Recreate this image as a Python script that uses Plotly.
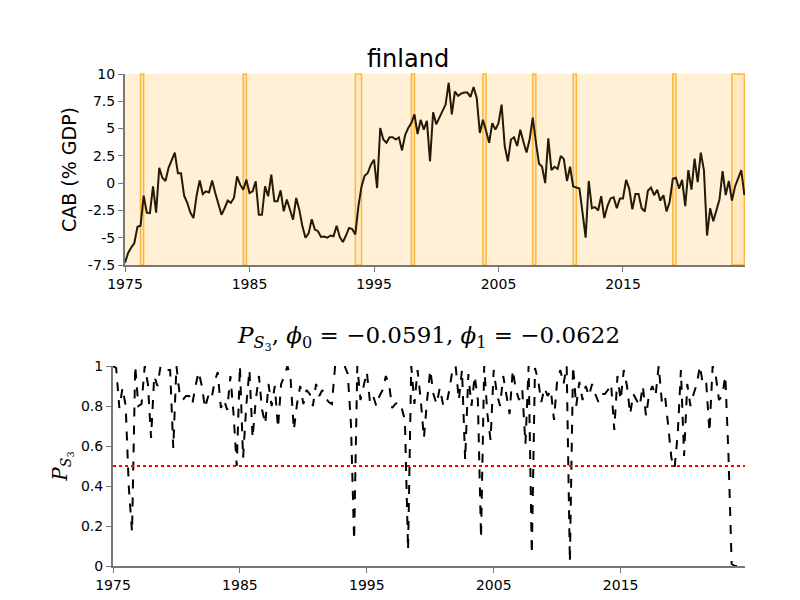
import plotly.graph_objects as go

# current account balance, quarterly from 1975Q1
cab = [-7.3, -6.4, -5.9, -5.5, -4.0, -3.9, -1.15, -2.7, -2.75, -0.3, -2.7, 1.4, 0.5, 0.2, 1.4, 2.15,
       2.8, 0.9, 0.9, -1.15, -1.8, -2.7, -3.2, -1.15, 0.25, -1.0, -0.75, -0.85, 0.25, -0.9, -1.8, -2.9,
       -2.3, -1.6, -1.8, -1.36,
       0.62, -0.14, -0.6, 0.32, -0.9, -0.75, 0.17, -2.9, -2.9, -0.3, -1.2, 0.78, -1.67, -1.67, -0.66, -2.58,
       -1.5, -2.43, -3.35, -1.36, -2.43, -3.96, -5.0, -4.6, -3.3, -4.26, -4.4, -4.93, -4.9, -5.0, -4.8, -4.87,
       -3.9, -4.93, -5.4, -4.8, -4.1, -4.2, -4.7, -2.1, -0.3, 0.68, 0.93, 1.7, 2.15, -0.45, 5.05, 4.0,
       3.7, 4.2, 4.2, 4.0, 4.2, 3.0, 4.4, 5.05, 5.5, 6.3, 4.5, 5.8,
       4.9, 5.7, 2.0, 6.5, 5.4, 6.0, 6.6, 7.2, 9.2, 6.3, 8.4, 8.0, 8.2, 8.3, 8.3, 7.9,
       8.8, 7.8, 4.6, 5.8, 4.8, 3.7, 5.5, 4.9, 5.5, 7.2, 3.4, 2.0, 4.0, 4.2, 3.4, 4.9,
       3.8, 2.8, 4.0, 6.0, 3.8, 1.8, 1.5, 0.0, 4.1, 1.2, 1.5, 1.3, 2.5, 2.2, 0.2, 1.5,
       -0.3, -0.4, -0.5, -2.7, -5.0, 0.2, -2.3, -2.2, -2.5, -1.2, -3.2, -2.1, -1.4, -1.3, -2.3, -1.4,
       -1.4, 0.3, -0.5, -2.4, -1.0, -1.0, -2.3, -2.6, -0.7, -0.4, -1.1, -0.6, -1.6, -1.1, -2.6, -1.7,
       0.4, 0.5, -0.5, 0.3, -2.1, 1.2, -0.6, 2.25, 0.1, 2.8, 1.2, -4.8, -2.3, -3.5, -2.4, -1.5,
       1.1, -1.1, 0.2, -1.6, -0.3, 0.5, 1.2, -1.1]

# probability of regime S3, quarterly from 1975Q1
p_s3 = [1.0, 0.99, 0.79, 0.89, 0.8, 0.39, 0.17, 1.0, 0.8, 0.81, 1.0, 0.91, 0.64, 0.95, 0.9, 1.0,
        0.99, 0.98, 0.98, 0.59, 1.0, 0.86, 0.83, 0.85, 0.85, 0.81, 0.9, 0.97, 0.9, 0.79, 0.85, 0.83,
        0.92, 0.97, 0.79, 0.83, 0.78, 0.95, 0.76, 0.5, 1.0, 0.54, 0.8, 0.98, 0.64, 0.83, 0.95, 0.78,
        0.71, 0.91, 0.8, 0.9, 0.69, 0.91, 0.95, 1.0, 0.93, 0.68, 0.81, 0.9, 0.81, 0.88, 0.86, 0.8,
        0.91, 0.85, 0.88, 0.84, 0.82, 0.81, 1.0, 1.0, 1.0, 1.0, 0.96, 0.71, 0.13, 1.0, 0.83, 0.9,
        0.97, 0.82, 0.85, 0.8, 0.85, 0.88, 0.95, 0.91, 0.79, 0.81, 0.82, 0.79, 0.73, 0.08, 1.0, 0.81,
        0.98, 0.83, 0.64, 0.83, 0.98, 0.86, 0.81, 0.89, 0.81, 0.8, 0.88, 0.98, 1.0, 0.83, 0.98, 0.53,
        0.96, 0.8, 0.95, 0.83, 0.14, 1.0, 0.76, 0.63, 0.98, 0.86, 0.8, 0.95, 0.85, 0.76,
        0.98, 0.88, 0.83, 0.88, 0.61, 1.0, 0.06, 0.99, 0.93, 0.82, 0.89, 0.85, 0.88, 0.73,
        0.93, 0.98, 0.91, 1.0, 0.02, 1.0, 0.8, 0.92, 0.83, 0.9, 0.85, 0.91, 0.86, 0.82, 0.86, 0.86,
        0.88, 0.91, 0.68, 0.95, 0.83, 0.98, 0.9, 0.76, 0.86, 0.83, 0.8, 0.9, 0.75, 0.86, 0.9, 0.85,
        1.0, 0.82, 0.85, 0.7, 0.54, 0.49, 0.66, 0.98, 0.55, 0.91, 0.8, 0.86, 0.91, 1.0, 0.9, 0.91,
        0.67, 1.0, 0.95, 0.83, 0.85, 0.95, 0.55, 0.01, 0.0, 0.0]

# low-probability periods (start, end) shaded on the top panel
bands = [(1976.25, 1976.5), (1984.5, 1984.75), (1993.5, 1994.0), (1998.0, 1998.25),
         (2003.75, 2004.0), (2007.75, 2008.0), (2011.0, 2011.25), (2019.0, 2019.25),
         (2023.75, 2024.75)]

years_cab = [1975 + i / 4 for i in range(len(cab))]
years_p = [1975 + i / 4 for i in range(len(p_s3))]

fig = go.Figure()
fig.add_trace(go.Scatter(x=years_cab, y=cab, mode='lines', line=dict(color='#231a0a', width=2),
                         xaxis='x', yaxis='y', showlegend=False))
fig.add_trace(go.Scatter(x=years_p, y=p_s3, mode='lines', line=dict(color='black', width=2, dash='dash'),
                         xaxis='x2', yaxis='y2', showlegend=False))
fig.add_trace(go.Scatter(x=[1975, 2024.8], y=[0.5, 0.5], mode='lines',
                         line=dict(color='red', width=2, dash='dot'),
                         xaxis='x2', yaxis='y2', showlegend=False))

shapes = [dict(type='rect', xref='x domain', yref='y domain', x0=0, x1=1, y0=0, y1=1,
               fillcolor='rgb(255,240,214)', line=dict(width=0), layer='below')]
for x0, x1 in bands:
    shapes.append(dict(type='rect', xref='x', yref='y domain', x0=x0, x1=x1, y0=0, y1=1,
                       fillcolor='rgba(255,220,150,0.3)', line=dict(color='rgba(255,170,20,0.8)', width=1.5),
                       layer='below'))

axis_common = dict(showgrid=False, zeroline=False, showline=True, linecolor='#777', linewidth=2,
                   ticks='outside', tickcolor='#777', ticklen=5, automargin=False,
                   tickfont=dict(family='DejaVu Sans', size=14, color='black'))

fig.update_layout(
    width=800, height=600,
    margin=dict(l=0, r=0, t=0, b=0),
    paper_bgcolor='white', plot_bgcolor='white',
    shapes=shapes,
    xaxis=dict(domain=[117 / 800, 737 / 800], anchor='y', range=[1975, 2024.8],
               tickvals=[1975, 1985, 1995, 2005, 2015], **axis_common),
    yaxis=dict(domain=[1 - 257 / 600, 1 - 66 / 600], anchor='x', range=[-7.5, 10],
               tickvals=[-7.5, -5, -2.5, 0, 2.5, 5, 7.5, 10],
               ticktext=['-7.5', '-5', '-2.5', '0', '2.5', '5', '7.5', '10'],
               title=dict(text='CAB (% GDP)', font=dict(family='DejaVu Sans', size=19, color='black'),
                          standoff=6),
               **axis_common),
    xaxis2=dict(domain=[105 / 800, 737 / 800], anchor='y2', range=[1975, 2024.8],
                tickvals=[1975, 1985, 1995, 2005, 2015], **axis_common),
    yaxis2=dict(domain=[1 - 558 / 600, 1 - 358 / 600], anchor='x2', range=[0, 1],
                tickvals=[0, 0.2, 0.4, 0.6, 0.8, 1], ticktext=['0', '0.2', '0.4', '0.6', '0.8', '1'],
                title=dict(text='<i>P</i><sub><i>S</i><sub>3</sub></sub>',
                           font=dict(family='DejaVu Serif', size=20, color='black'), standoff=8),
                **axis_common),
    annotations=[
        dict(text='finland', x=400 / 800, y=1 - 35 / 600, xref='paper', yref='paper', showarrow=False,
             font=dict(family='DejaVu Sans', size=24, color='black')),
        dict(text='<i>P</i><sub><i>S</i><sub>3</sub></sub>, <i>ϕ</i><sub>0</sub> = −0.0591, '
                  '<i>ϕ</i><sub>1</sub> = −0.0622',
             x=420 / 800, y=1 - 330 / 600, xref='paper', yref='paper', showarrow=False,
             font=dict(family='DejaVu Serif', size=23, color='black')),
    ],
)

fig.write_html("out.html")
